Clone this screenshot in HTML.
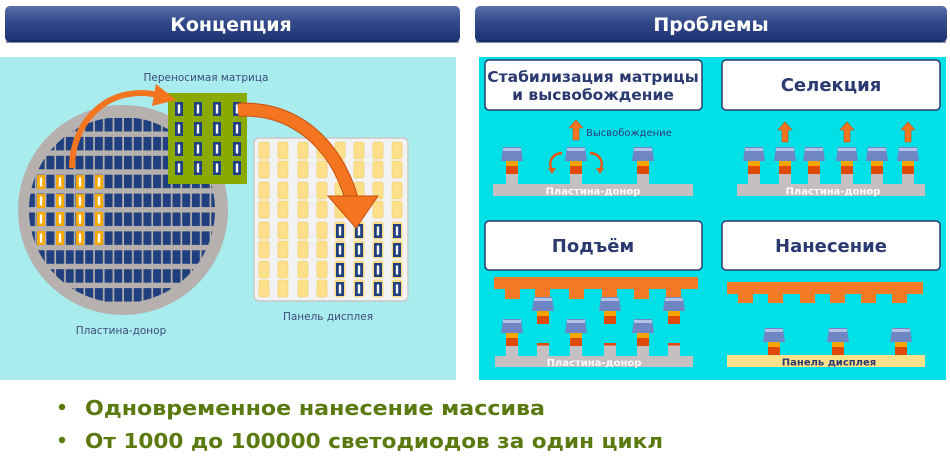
<!DOCTYPE html>
<html><head><meta charset="utf-8"><style>
html,body{margin:0;padding:0;background:#fff;}
svg{display:block;}
text{font-family:"DejaVu Sans","Liberation Sans",sans-serif;}
</style></head><body>
<svg width="950" height="462" viewBox="0 0 950 462" xmlns="http://www.w3.org/2000/svg">
<defs>
<linearGradient id="hg" x1="0" y1="0" x2="0" y2="1">
<stop offset="0" stop-color="#5a6fa8"/><stop offset="0.45" stop-color="#33498a"/><stop offset="1" stop-color="#1e3272"/>
</linearGradient>
<pattern id="wp" x="27" y="118" width="9.7" height="18.9" patternUnits="userSpaceOnUse">
<rect x="0" y="0" width="8" height="13.5" fill="#1f3f7e"/>
</pattern>
<clipPath id="wc"><circle cx="122" cy="210" r="93"/></clipPath>
<g id="led">
<polygon points="-9,-27 9,-27 11,-13 -11,-13" fill="#6f86c4"/>
<rect x="-9" y="-26" width="18" height="3" fill="#b4c2e6"/>
<rect x="-6" y="-13" width="12" height="5" fill="#f5a400"/>
<rect x="-6" y="-8" width="12" height="8" fill="#e04a08"/>
</g>
<g id="uarr"><polygon points="0,0 7,8 3,8 3,20 -3,20 -3,8 -7,8" fill="#f47520" stroke="#c85010" stroke-width="0.6"/></g>
<g id="dchip"><rect x="-4" y="-7" width="8" height="14" fill="#1f3f7e"/><rect x="-1.2" y="-4.5" width="2.4" height="9" fill="#fff"/></g>
<g id="ochip"><rect x="-4" y="-7" width="8" height="14" fill="#f5a800"/><rect x="-1.2" y="-4.5" width="2.4" height="9" fill="#fff"/></g>
</defs>

<rect x="5" y="6" width="455" height="36" rx="5" fill="url(#hg)"/>
<rect x="6" y="40" width="453" height="3" fill="#10205a" opacity="0.5"/>
<text x="231" y="31" font-size="19" font-weight="bold" fill="#fff" text-anchor="middle">Концепция</text>
<rect x="475" y="6" width="472" height="36" rx="5" fill="url(#hg)"/>
<rect x="476" y="40" width="470" height="3" fill="#10205a" opacity="0.5"/>
<text x="711" y="31" font-size="19" font-weight="bold" fill="#fff" text-anchor="middle">Проблемы</text>

<rect x="0" y="57" width="456" height="323" fill="#a9ecee"/>
<text x="206" y="81" font-size="10.5" fill="#3d4a7a" text-anchor="middle">Переносимая матрица</text>
<circle cx="123" cy="210" r="105" fill="#b6b1ae"/>
<rect x="0" y="100" width="260" height="220" fill="url(#wp)" clip-path="url(#wc)"/>
<g>
<use href="#ochip" x="41" y="182"/><use href="#ochip" x="60" y="182"/><use href="#ochip" x="80" y="182"/><use href="#ochip" x="99" y="182"/>
<use href="#ochip" x="41" y="201"/><use href="#ochip" x="60" y="201"/><use href="#ochip" x="80" y="201"/><use href="#ochip" x="99" y="201"/>
<use href="#ochip" x="41" y="219"/><use href="#ochip" x="60" y="219"/><use href="#ochip" x="80" y="219"/><use href="#ochip" x="99" y="219"/>
<use href="#ochip" x="41" y="238"/><use href="#ochip" x="60" y="238"/><use href="#ochip" x="80" y="238"/><use href="#ochip" x="99" y="238"/>
</g>
<rect x="168" y="93" width="79" height="91" fill="#8aaa00"/>
<g>
<use href="#dchip" x="179" y="109"/><use href="#dchip" x="198" y="109"/><use href="#dchip" x="217" y="109"/><use href="#dchip" x="237" y="109"/>
<use href="#dchip" x="179" y="129"/><use href="#dchip" x="198" y="129"/><use href="#dchip" x="217" y="129"/><use href="#dchip" x="237" y="129"/>
<use href="#dchip" x="179" y="149"/><use href="#dchip" x="198" y="149"/><use href="#dchip" x="217" y="149"/><use href="#dchip" x="237" y="149"/>
<use href="#dchip" x="179" y="168"/><use href="#dchip" x="198" y="168"/><use href="#dchip" x="217" y="168"/><use href="#dchip" x="237" y="168"/>
</g>
<rect x="254" y="138" width="154" height="163" rx="5" fill="#f2f2f2" stroke="#c8c8c8" stroke-width="1.5"/>
<g fill="#fde08a" stroke="#f0c860" stroke-width="0.6">
<rect x="259" y="142" width="10" height="17" rx="2"/><rect x="278" y="142" width="10" height="17" rx="2"/><rect x="298" y="142" width="10" height="17" rx="2"/><rect x="317" y="142" width="10" height="17" rx="2"/><rect x="335" y="142" width="10" height="17" rx="2"/><rect x="354" y="142" width="10" height="17" rx="2"/><rect x="373" y="142" width="10" height="17" rx="2"/><rect x="392" y="142" width="10" height="17" rx="2"/>
<rect x="259" y="161" width="10" height="17" rx="2"/><rect x="278" y="161" width="10" height="17" rx="2"/><rect x="298" y="161" width="10" height="17" rx="2"/><rect x="317" y="161" width="10" height="17" rx="2"/><rect x="335" y="161" width="10" height="17" rx="2"/><rect x="354" y="161" width="10" height="17" rx="2"/><rect x="373" y="161" width="10" height="17" rx="2"/><rect x="392" y="161" width="10" height="17" rx="2"/>
<rect x="259" y="182" width="10" height="17" rx="2"/><rect x="278" y="182" width="10" height="17" rx="2"/><rect x="298" y="182" width="10" height="17" rx="2"/><rect x="317" y="182" width="10" height="17" rx="2"/><rect x="335" y="182" width="10" height="17" rx="2"/><rect x="354" y="182" width="10" height="17" rx="2"/><rect x="373" y="182" width="10" height="17" rx="2"/><rect x="392" y="182" width="10" height="17" rx="2"/>
<rect x="259" y="201" width="10" height="17" rx="2"/><rect x="278" y="201" width="10" height="17" rx="2"/><rect x="298" y="201" width="10" height="17" rx="2"/><rect x="317" y="201" width="10" height="17" rx="2"/><rect x="335" y="201" width="10" height="17" rx="2"/><rect x="354" y="201" width="10" height="17" rx="2"/><rect x="373" y="201" width="10" height="17" rx="2"/><rect x="392" y="201" width="10" height="17" rx="2"/>
<rect x="259" y="222" width="10" height="17" rx="2"/><rect x="278" y="222" width="10" height="17" rx="2"/><rect x="298" y="222" width="10" height="17" rx="2"/><rect x="317" y="222" width="10" height="17" rx="2"/><rect x="335" y="222" width="10" height="17" rx="2"/><rect x="354" y="222" width="10" height="17" rx="2"/><rect x="373" y="222" width="10" height="17" rx="2"/><rect x="392" y="222" width="10" height="17" rx="2"/>
<rect x="259" y="241" width="10" height="17" rx="2"/><rect x="278" y="241" width="10" height="17" rx="2"/><rect x="298" y="241" width="10" height="17" rx="2"/><rect x="317" y="241" width="10" height="17" rx="2"/><rect x="335" y="241" width="10" height="17" rx="2"/><rect x="354" y="241" width="10" height="17" rx="2"/><rect x="373" y="241" width="10" height="17" rx="2"/><rect x="392" y="241" width="10" height="17" rx="2"/>
<rect x="259" y="261" width="10" height="17" rx="2"/><rect x="278" y="261" width="10" height="17" rx="2"/><rect x="298" y="261" width="10" height="17" rx="2"/><rect x="317" y="261" width="10" height="17" rx="2"/><rect x="335" y="261" width="10" height="17" rx="2"/><rect x="354" y="261" width="10" height="17" rx="2"/><rect x="373" y="261" width="10" height="17" rx="2"/><rect x="392" y="261" width="10" height="17" rx="2"/>
<rect x="259" y="280" width="10" height="17" rx="2"/><rect x="278" y="280" width="10" height="17" rx="2"/><rect x="298" y="280" width="10" height="17" rx="2"/><rect x="317" y="280" width="10" height="17" rx="2"/><rect x="335" y="280" width="10" height="17" rx="2"/><rect x="354" y="280" width="10" height="17" rx="2"/><rect x="373" y="280" width="10" height="17" rx="2"/><rect x="392" y="280" width="10" height="17" rx="2"/>
</g>
<g>
<use href="#dchip" x="340" y="231"/><use href="#dchip" x="359" y="231"/><use href="#dchip" x="378" y="231"/><use href="#dchip" x="397" y="231"/>
<use href="#dchip" x="340" y="250"/><use href="#dchip" x="359" y="250"/><use href="#dchip" x="378" y="250"/><use href="#dchip" x="397" y="250"/>
<use href="#dchip" x="340" y="270"/><use href="#dchip" x="359" y="270"/><use href="#dchip" x="378" y="270"/><use href="#dchip" x="397" y="270"/>
<use href="#dchip" x="340" y="289"/><use href="#dchip" x="359" y="289"/><use href="#dchip" x="378" y="289"/><use href="#dchip" x="397" y="289"/>
</g>
<path d="M72,168 C72,120 110,82 162,96" fill="none" stroke="#f47520" stroke-width="6"/>
<polygon points="156,84 176,100 152,106" fill="#f47520"/>
<path d="M238,110 C290,106 335,140 352,200" fill="none" stroke="#c85010" stroke-width="14"/>
<path d="M238,110 C290,106 335,140 352,200" fill="none" stroke="#f47520" stroke-width="12"/>
<polygon points="328,196 378,196 356,228" fill="#f47520" stroke="#c85010" stroke-width="1"/>
<text x="121" y="334" font-size="10.5" fill="#3d4a7a" text-anchor="middle">Пластина-донор</text>
<text x="328" y="320" font-size="10.5" fill="#3d4a7a" text-anchor="middle">Панель дисплея</text>

<rect x="479" y="57" width="467" height="323" fill="#00e0e6"/>
<g fill="#fff" stroke="#2a3a70" stroke-width="1.5">
<rect x="485" y="60" width="217" height="50" rx="4"/>
<rect x="722" y="60" width="218" height="50" rx="4"/>
<rect x="485" y="221" width="217" height="49" rx="4"/>
<rect x="722" y="221" width="218" height="49" rx="4"/>
</g>
<g font-weight="bold" fill="#2a3a70" text-anchor="middle">
<text x="593" y="82" font-size="15.5">Стабилизация матрицы</text>
<text x="593" y="100" font-size="15.5">и высвобождение</text>
<text x="831" y="91" font-size="18">Селекция</text>
<text x="593" y="252" font-size="18">Подъём</text>
<text x="831" y="252" font-size="18">Нанесение</text>
</g>
<rect x="493" y="184" width="200" height="12" fill="#c6bfbf"/>
<g fill="#c6bfbf"><rect x="506" y="172" width="12" height="13"/><rect x="570" y="172" width="12" height="13"/><rect x="637" y="172" width="12" height="13"/></g>
<use href="#led" x="512" y="174"/><use href="#led" x="576" y="174"/><use href="#led" x="643" y="174"/>
<text x="593" y="194.5" font-size="10" font-weight="bold" fill="#fff" text-anchor="middle">Пластина-донор</text>
<use href="#uarr" x="576" y="120"/>
<text x="586" y="136" font-size="10" fill="#2a3a80">Высвобождение</text>
<path d="M562,153 C551,154 548,163 552,171" fill="none" stroke="#e85a18" stroke-width="2.5"/>
<polygon points="548,168 556,168 552,174" fill="#e85a18"/>
<path d="M590,153 C601,154 604,163 600,171" fill="none" stroke="#e85a18" stroke-width="2.5"/>
<polygon points="596,168 604,168 600,174" fill="#e85a18"/>
<rect x="737" y="184" width="188" height="12" fill="#c6bfbf"/>
<g fill="#c6bfbf"><rect x="748" y="172" width="12" height="13"/><rect x="779" y="172" width="12" height="13"/><rect x="808" y="172" width="12" height="13"/><rect x="841" y="172" width="12" height="13"/><rect x="871" y="172" width="12" height="13"/><rect x="902" y="172" width="12" height="13"/></g>
<use href="#led" x="754" y="174"/><use href="#led" x="785" y="174"/><use href="#led" x="814" y="174"/><use href="#led" x="847" y="174"/><use href="#led" x="877" y="174"/><use href="#led" x="908" y="174"/>
<text x="833" y="194.5" font-size="10" font-weight="bold" fill="#fff" text-anchor="middle">Пластина-донор</text>
<use href="#uarr" x="785" y="122"/><use href="#uarr" x="847" y="122"/><use href="#uarr" x="908" y="122"/>
<rect x="494" y="277" width="204" height="12" fill="#f47a28"/>
<g fill="#f47a28"><rect x="505" y="288" width="15" height="11"/><rect x="535" y="288" width="15" height="11"/><rect x="569" y="288" width="15" height="11"/><rect x="602" y="288" width="15" height="11"/><rect x="634" y="288" width="15" height="11"/><rect x="666" y="288" width="15" height="11"/></g>
<use href="#led" x="543" y="324"/><use href="#led" x="610" y="324"/><use href="#led" x="674" y="324"/>
<rect x="495" y="356" width="198" height="11" fill="#c6bfbf"/>
<g fill="#c6bfbf"><rect x="506" y="344" width="12" height="13"/><rect x="570" y="344" width="12" height="13"/><rect x="637" y="344" width="12" height="13"/><rect x="537" y="344" width="12" height="13"/><rect x="604" y="344" width="12" height="13"/><rect x="668" y="344" width="12" height="13"/></g>
<g fill="#e04a08"><rect x="537" y="343" width="12" height="2.5"/><rect x="604" y="343" width="12" height="2.5"/><rect x="668" y="343" width="12" height="2.5"/></g>
<use href="#led" x="512" y="346"/><use href="#led" x="576" y="346"/><use href="#led" x="643" y="346"/>
<text x="594" y="366" font-size="10" font-weight="bold" fill="#fff" text-anchor="middle">Пластина-донор</text>
<rect x="727" y="282" width="196" height="12" fill="#f47a28"/>
<g fill="#f47a28"><rect x="738" y="293" width="15" height="10"/><rect x="768" y="293" width="15" height="10"/><rect x="800" y="293" width="15" height="10"/><rect x="830" y="293" width="15" height="10"/><rect x="861" y="293" width="15" height="10"/><rect x="892" y="293" width="15" height="10"/></g>
<rect x="727" y="355" width="198" height="12" fill="#fde08a"/>
<use href="#led" x="774" y="355"/><use href="#led" x="838" y="355"/><use href="#led" x="901" y="355"/>
<text x="829" y="365.5" font-size="10" font-weight="bold" fill="#2a3a70" text-anchor="middle">Панель дисплея</text>

<g fill="#5a7a10" font-weight="bold">
<circle cx="62" cy="407" r="3.2"/>
<circle cx="62" cy="440" r="3.2"/>
<text x="85" y="415" font-size="20" textLength="460" lengthAdjust="spacingAndGlyphs">Одновременное нанесение массива</text>
<text x="85" y="448" font-size="20" textLength="578" lengthAdjust="spacingAndGlyphs">От 1000 до 100000 светодиодов за один цикл</text>
</g>
</svg>
</body></html>
